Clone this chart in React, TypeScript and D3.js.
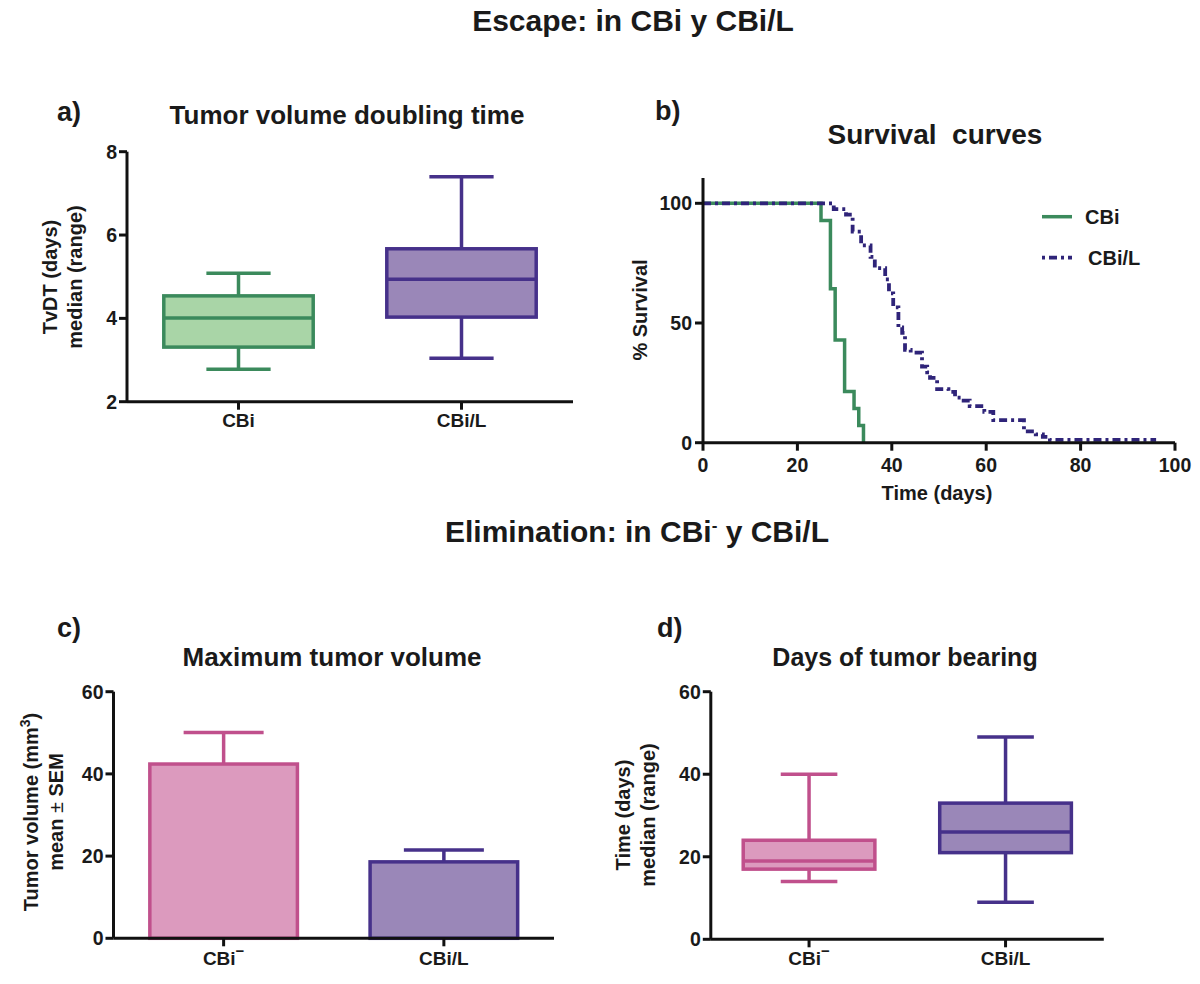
import React from "react";
import * as d3 from "d3";

// ---------- DATA ----------
const catsA = ["CBi", "CBi/L"];
const tvdtMin = [2.78, 3.04];
const tvdtQ1 = [3.31, 4.03];
const tvdtMed = [4.01, 4.94];
const tvdtQ3 = [4.54, 5.67];
const tvdtMax = [5.08, 7.4];
const tvdtTicks = [2, 4, 6, 8];

const cbiTimes = [0, 25, 27, 28, 30, 32, 33, 34];
const cbiSurv = [100, 92.86, 64.29, 42.86, 21.43, 14.29, 7.14, 0];

const cbilTimes = [0, 27.7, 30.3, 31.7, 33.5, 35.5, 36.4, 38.6, 39.4, 40.3, 41.4, 42.2, 42.8, 44, 46.4, 47.5, 48.1, 49.6, 52, 53.4, 54.6, 56.5, 59.6, 61.5, 68, 70.5, 72, 73.5, 96];
const cbilSurv = [100, 97.6, 95.3, 88.2, 82.4, 77.6, 72.9, 68.2, 62.4, 56.5, 48.2, 45.9, 38.8, 37.6, 31.8, 29.4, 27.1, 22.4, 21.2, 18.8, 17.6, 15.3, 12.9, 9.4, 4.7, 3.5, 2.4, 1.2, 1.2];
const survXTicks = [0, 20, 40, 60, 80, 100];
const survYTicks = [0, 50, 100];

const catsC = ["CBi-", "CBi/L"];
const maxVolMean = [42.4, 18.6];
const maxVolSem = [7.7, 2.9];
const volTicks = [0, 20, 40, 60];

const catsD = ["CBi-", "CBi/L"];
const daysMin = [14, 9];
const daysQ1 = [17, 21];
const daysMed = [19, 26];
const daysQ3 = [24, 33];
const daysMax = [40, 49];
const daysTicks = [0, 20, 40, 60];

// ---------- STYLE ----------
const FONT = "'Liberation Sans', Arial, Helvetica, sans-serif";
const TXT = "#1a1a1a";
const GREEN = "#3b8a5c";
const GREEN_FILL = "#a9d5a7";
const PURPLE = "#46318a";
const PURPLE_FILL = "#9a87b8";
const PINK = "#c0508c";
const PINK_FILL = "#dc9abe";
const NAVY = "#2f2479";

const strokeCols = [GREEN, PURPLE];
const fillCols = [GREEN_FILL, PURPLE_FILL];
const strokeColsE = [PINK, PURPLE];
const fillColsE = [PINK_FILL, PURPLE_FILL];

function CatLabel({ name, x, y }: { name: string; x: number; y: number }) {
  if (name.endsWith("-")) {
    return (
      <text x={x} y={y} textAnchor="middle" fontSize={19} fontWeight="bold" fill={TXT} fontFamily={FONT}>
        CBi
        <tspan dy={-9} fontSize={15}>−</tspan>
      </text>
    );
  }
  return (
    <text x={x} y={y} textAnchor="middle" fontSize={19} fontWeight="bold" fill={TXT} fontFamily={FONT}>
      {name}
    </text>
  );
}

function YAxis({ x, y, ticks, top, bottom }: any) {
  return (
    <g>
      <line x1={x} x2={x} y1={top} y2={bottom} stroke="#111" strokeWidth={3} />
      {ticks.map((t: number) => (
        <g key={t}>
          <line x1={x - 8} x2={x} y1={y(t)} y2={y(t)} stroke="#111" strokeWidth={3} />
          <text x={x - 10} y={y(t)} dy="0.36em" textAnchor="end" fontSize={19.5} fontWeight="bold" fill={TXT} fontFamily={FONT}>
            {t}
          </text>
        </g>
      ))}
    </g>
  );
}

function BoxPanel({ cats, x, y, mins, q1, med, q3, maxs, strokes, fills, labelY }: any) {
  const bw = x.bandwidth() * 0.67;
  const cw = bw * 0.43;
  return (
    <g>
      {cats.map((c: string, i: number) => {
        const cx = (x(c) as number) + x.bandwidth() / 2;
        return (
          <g key={c} stroke={strokes[i]} strokeWidth={3.5} fill="none">
            <line x1={cx} x2={cx} y1={y(maxs[i])} y2={y(q3[i])} />
            <line x1={cx} x2={cx} y1={y(q1[i])} y2={y(mins[i])} />
            <line x1={cx - cw / 2} x2={cx + cw / 2} y1={y(maxs[i])} y2={y(maxs[i])} />
            <line x1={cx - cw / 2} x2={cx + cw / 2} y1={y(mins[i])} y2={y(mins[i])} />
            <rect x={cx - bw / 2} y={y(q3[i])} width={bw} height={y(q1[i]) - y(q3[i])} fill={fills[i]} />
            <line x1={cx - bw / 2} x2={cx + bw / 2} y1={y(med[i])} y2={y(med[i])} />
          </g>
        );
      })}
      {cats.map((c: string) => {
        const cx = (x(c) as number) + x.bandwidth() / 2;
        return (
          <g key={"t" + c}>
            <line x1={cx} x2={cx} y1={y.range()[0]} y2={y.range()[0] + 8} stroke="#111" strokeWidth={3} />
            <CatLabel name={c} x={cx} y={labelY} />
          </g>
        );
      })}
    </g>
  );
}

export default function App() {
  // Panel a
  const xA = d3.scaleBand<string>().domain(catsA).range([127, 573]);
  const yA = d3.scaleLinear().domain([2, 8]).range([401.7, 151.7]);
  // Panel b
  const xB = d3.scaleLinear().domain([0, 100]).range([703, 1175]);
  const yB = d3.scaleLinear().domain([0, 100]).range([442.7, 203.3]);
  const stepLine = d3
    .line<[number, number]>()
    .x((d) => xB(d[0]))
    .y((d) => yB(d[1]))
    .curve(d3.curveStepAfter);
  const cbiPts = cbiTimes.map((t, i) => [t, cbiSurv[i]] as [number, number]);
  const cbilPts = cbilTimes.map((t, i) => [t, cbilSurv[i]] as [number, number]);
  // Panel c
  const xC = d3.scaleBand<string>().domain(catsC).range([113.5, 554]);
  const yC = d3.scaleLinear().domain([0, 60]).range([938.3, 691.7]);
  // Panel d
  const xD = d3.scaleBand<string>().domain(catsD).range([710.8, 1103.8]);
  const yD = d3.scaleLinear().domain([0, 60]).range([939.3, 691.7]);

  const barW = xC.bandwidth() * 0.67;
  const capW = 80;

  return (
    <svg
      width={1200}
      height={984}
      style={{ position: "absolute", left: 0, top: 0, background: "#fff" }}
      fontFamily={FONT}
    >
      <rect width={1200} height={984} fill="#fff" />
      {/* Section titles */}
      <text x={633} y={31} textAnchor="middle" fontSize={30} fontWeight="bold" fill={TXT}>
        Escape: in CBi y CBi/L
      </text>
      <text x={637} y={542} textAnchor="middle" fontSize={30} fontWeight="bold" fill={TXT}>
        Elimination: in CBi<tspan dy={-11} fontSize={17}>-</tspan>
        <tspan dy={11}> y CBi/L</tspan>
      </text>

      {/* Panel a */}
      <text x={57} y={121} fontSize={27} fontWeight="bold" fill={TXT}>a)</text>
      <text x={347} y={124} textAnchor="middle" fontSize={26} fontWeight="bold" fill={TXT}>
        Tumor volume doubling time
      </text>
      <g transform="translate(50,277) rotate(-90)">
        <text textAnchor="middle" dy="0.36em" fontSize={20} fontWeight="bold" fill={TXT}>TvDT (days)</text>
      </g>
      <g transform="translate(75,277) rotate(-90)">
        <text textAnchor="middle" dy="0.36em" fontSize={20} fontWeight="bold" fill={TXT}>median (range)</text>
      </g>
      <BoxPanel
        cats={catsA} x={xA} y={yA}
        mins={tvdtMin} q1={tvdtQ1} med={tvdtMed} q3={tvdtQ3} maxs={tvdtMax}
        strokes={strokeCols} fills={fillCols} labelY={427}
      />
      <line x1={127} x2={573} y1={yA(2)} y2={yA(2)} stroke="#111" strokeWidth={3} />
      <YAxis x={127} y={yA} ticks={tvdtTicks} top={yA(8)} bottom={yA(2)} />

      {/* Panel b */}
      <text x={655} y={120} fontSize={27} fontWeight="bold" fill={TXT}>b)</text>
      <text x={935} y={144} textAnchor="middle" fontSize={28} fontWeight="bold" fill={TXT} style={{ whiteSpace: "pre" }}>
        Survival  curves
      </text>
      <g transform="translate(640,310) rotate(-90)">
        <text textAnchor="middle" dy="0.36em" fontSize={20} fontWeight="bold" fill={TXT}>% Survival</text>
      </g>
      <path d={stepLine(cbiPts) || ""} fill="none" stroke={GREEN} strokeWidth={3.5} />
      <path d={stepLine(cbilPts) || ""} fill="none" stroke={NAVY} strokeWidth={3.8} strokeDasharray="8,4,3,4" />
      <line x1={703} x2={703} y1={178} y2={yB(0)} stroke="#111" strokeWidth={3} />
      <line x1={703} x2={1175} y1={yB(0)} y2={yB(0)} stroke="#111" strokeWidth={3} />
      {survYTicks.map((t) => (
        <g key={"by" + t}>
          <line x1={695} x2={703} y1={yB(t)} y2={yB(t)} stroke="#111" strokeWidth={3} />
          <text x={692} y={yB(t)} dy="0.36em" textAnchor="end" fontSize={19.5} fontWeight="bold" fill={TXT}>{t}</text>
        </g>
      ))}
      {survXTicks.map((t) => (
        <g key={"bx" + t}>
          <line x1={xB(t)} x2={xB(t)} y1={yB(0)} y2={yB(0) + 8} stroke="#111" strokeWidth={3} />
          <text x={xB(t)} y={472} textAnchor="middle" fontSize={19.5} fontWeight="bold" fill={TXT}>{t}</text>
        </g>
      ))}
      <text x={937} y={500} textAnchor="middle" fontSize={20} fontWeight="bold" fill={TXT}>Time (days)</text>
      {/* legend */}
      <line x1={1042} x2={1072} y1={216.7} y2={216.7} stroke={GREEN} strokeWidth={3.5} />
      <text x={1085} y={216.7} dy="0.36em" fontSize={20} fontWeight="bold" fill={TXT}>CBi</text>
      <line x1={1042} x2={1072} y1={257.7} y2={257.7} stroke={NAVY} strokeWidth={3.8} strokeDasharray="3,4,8,4" />
      <text x={1088} y={257.7} dy="0.36em" fontSize={20} fontWeight="bold" fill={TXT}>CBi/L</text>

      {/* Panel c */}
      <text x={57} y={637} fontSize={27} fontWeight="bold" fill={TXT}>c)</text>
      <text x={332} y={666} textAnchor="middle" fontSize={26} fontWeight="bold" fill={TXT}>
        Maximum tumor volume
      </text>
      <g transform="translate(31,812) rotate(-90)">
        <text textAnchor="middle" dy="0.36em" fontSize={20} fontWeight="bold" fill={TXT}>
          Tumor volume (mm<tspan dy={-8} fontSize={14}>3</tspan><tspan dy={8}>)</tspan>
        </text>
      </g>
      <g transform="translate(56,812) rotate(-90)">
        <text textAnchor="middle" dy="0.36em" fontSize={20} fontWeight="bold" fill={TXT}>
          mean <tspan fontWeight="normal">±</tspan> SEM
        </text>
      </g>
      {catsC.map((c, i) => {
        const cx = (xC(c) as number) + xC.bandwidth() / 2;
        const top = yC(maxVolMean[i]);
        const errTop = yC(maxVolMean[i] + maxVolSem[i]);
        return (
          <g key={"c" + c} stroke={strokeColsE[i]} strokeWidth={3.5}>
            <line x1={cx} x2={cx} y1={top} y2={errTop} />
            <line x1={cx - capW / 2} x2={cx + capW / 2} y1={errTop} y2={errTop} />
            <rect x={cx - barW / 2} y={top} width={barW} height={yC(0) - top} fill={fillColsE[i]} />
          </g>
        );
      })}
      {catsC.map((c) => {
        const cx = (xC(c) as number) + xC.bandwidth() / 2;
        return (
          <g key={"ct" + c}>
            <line x1={cx} x2={cx} y1={yC(0)} y2={yC(0) + 8} stroke="#111" strokeWidth={3} />
            <CatLabel name={c} x={cx} y={965} />
          </g>
        );
      })}
      <line x1={113.5} x2={554} y1={yC(0)} y2={yC(0)} stroke="#111" strokeWidth={3} />
      <YAxis x={113.5} y={yC} ticks={volTicks} top={yC(60)} bottom={yC(0)} />

      {/* Panel d */}
      <text x={657} y={637} fontSize={27} fontWeight="bold" fill={TXT}>d)</text>
      <text x={905} y={666} textAnchor="middle" fontSize={25} fontWeight="bold" fill={TXT}>
        Days of tumor bearing
      </text>
      <g transform="translate(623,815) rotate(-90)">
        <text textAnchor="middle" dy="0.36em" fontSize={20} fontWeight="bold" fill={TXT}>Time (days)</text>
      </g>
      <g transform="translate(648,815) rotate(-90)">
        <text textAnchor="middle" dy="0.36em" fontSize={20} fontWeight="bold" fill={TXT}>median (range)</text>
      </g>
      <BoxPanel
        cats={catsD} x={xD} y={yD}
        mins={daysMin} q1={daysQ1} med={daysMed} q3={daysQ3} maxs={daysMax}
        strokes={strokeColsE} fills={fillColsE} labelY={965}
      />
      <line x1={710.8} x2={1103.8} y1={yD(0)} y2={yD(0)} stroke="#111" strokeWidth={3} />
      <YAxis x={710.8} y={yD} ticks={daysTicks} top={yD(60)} bottom={yD(0)} />
    </svg>
  );
}
